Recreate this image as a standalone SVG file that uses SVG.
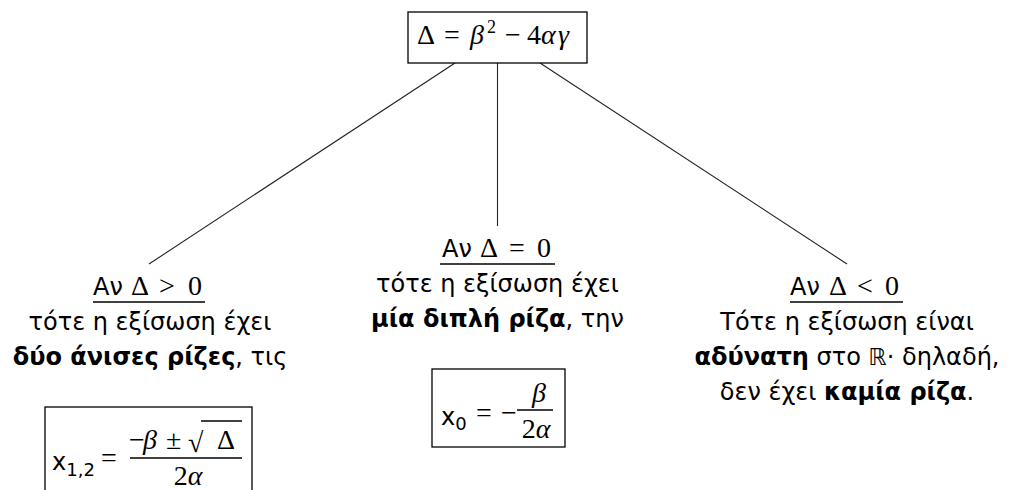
<svg xmlns="http://www.w3.org/2000/svg" width="1009" height="490" viewBox="0 0 1009 490">
<style>
.sans{font-family:"DejaVu Sans","Liberation Sans",sans-serif;font-size:24px;fill:#000}
.math{font-family:"Liberation Serif","Times New Roman",serif;font-size:28px;fill:#000}
.it{font-style:italic}
.b{font-weight:bold}
.box{fill:#fff;stroke:#000;stroke-width:1.3}
.conn{stroke:#222;stroke-width:1.1;fill:none}
.ul{stroke:#000;stroke-width:1.5}
.bar{stroke:#000;stroke-width:1.3}
</style>
<rect width="1009" height="490" fill="#fff"/>
<g id="connectors">
<line class="conn" x1="455" y1="63" x2="149" y2="264"/>
<line class="conn" x1="497.5" y1="63" x2="497.5" y2="226"/>
<line class="conn" x1="540" y1="63" x2="847" y2="264"/>
</g>
<g id="root">
<rect class="box" x="408" y="12" width="179" height="51"/>
<text class="math" y="44"><tspan x="417">Δ</tspan><tspan x="444">=</tspan><tspan class="it" x="470">β</tspan><tspan x="487" y="33" font-size="18">2</tspan><tspan x="505" y="44">−</tspan><tspan x="527">4</tspan><tspan class="it" x="541">α</tspan><tspan class="it" x="558">γ</tspan></text>
</g>
<g id="case-positive">
<text class="sans" x="93" y="295">Αν<tspan class="math" x="131">Δ</tspan><tspan class="math" x="159">&gt;</tspan><tspan class="math" x="188">0</tspan></text>
<line class="ul" x1="93" y1="302" x2="205" y2="302"/>
<text class="sans" x="150" y="330" text-anchor="middle">τότε η εξίσωση έχει</text>
<text class="sans" x="150" y="365" text-anchor="middle"><tspan class="b">δύο άνισες ρίζες</tspan>, τις</text>
<rect class="box" x="45" y="407" width="207" height="95"/>
<text class="sans" x="52" y="470" font-size="28">x<tspan font-size="18" dy="6">1,2</tspan></text>
<text class="math" x="109" y="467" text-anchor="middle">=</text>
<line class="bar" x1="130" y1="458" x2="242" y2="458"/>
<text class="math" y="449"><tspan x="129">−</tspan><tspan class="it" x="143">β</tspan><tspan x="166">±</tspan></text>
<text class="math" x="188" y="452" font-size="40">√</text>
<line class="bar" x1="201" y1="421" x2="242" y2="421"/>
<text class="math" x="226" y="449" text-anchor="middle">Δ</text>
<text class="math" x="188" y="485" text-anchor="middle">2<tspan class="it">α</tspan></text>
</g>
<g id="case-zero">
<text class="sans" x="442" y="257">Αν<tspan class="math" x="480">Δ</tspan><tspan class="math" x="509">=</tspan><tspan class="math" x="537">0</tspan></text>
<line class="ul" x1="440" y1="264" x2="555" y2="264"/>
<text class="sans" x="497.5" y="292" text-anchor="middle">τότε η εξίσωση έχει</text>
<text class="sans" x="497.5" y="327" text-anchor="middle"><tspan class="b">μία διπλή ρίζα</tspan>, την</text>
<rect class="box" x="432" y="369" width="133" height="78"/>
<text class="sans" x="441" y="425" font-size="27">x<tspan font-size="18" dy="5">0</tspan></text>
<text class="math" x="484" y="422" text-anchor="middle">=</text>
<text class="math" x="509" y="422" text-anchor="middle">−</text>
<line class="bar" x1="517" y1="410" x2="553" y2="410"/>
<text class="math it" x="539" y="402" text-anchor="middle">β</text>
<text class="math" x="536" y="438" text-anchor="middle">2<tspan class="it">α</tspan></text>
</g>
<g id="case-negative">
<text class="sans" x="790" y="295">Αν<tspan class="math" x="829">Δ</tspan><tspan class="math" x="857">&lt;</tspan><tspan class="math" x="885">0</tspan></text>
<line class="ul" x1="790" y1="302" x2="903" y2="302"/>
<text class="sans" x="847" y="330" text-anchor="middle">Τότε η εξίσωση είναι</text>
<text class="sans" x="847" y="365" text-anchor="middle"><tspan class="b">αδύνατη</tspan> στο <tspan font-family="DejaVu Sans" font-size="23">ℝ</tspan>· δηλαδή,</text>
<text class="sans" x="847" y="400" text-anchor="middle">δεν έχει <tspan class="b">καμία ρίζα</tspan>.</text>
</g>
</svg>
